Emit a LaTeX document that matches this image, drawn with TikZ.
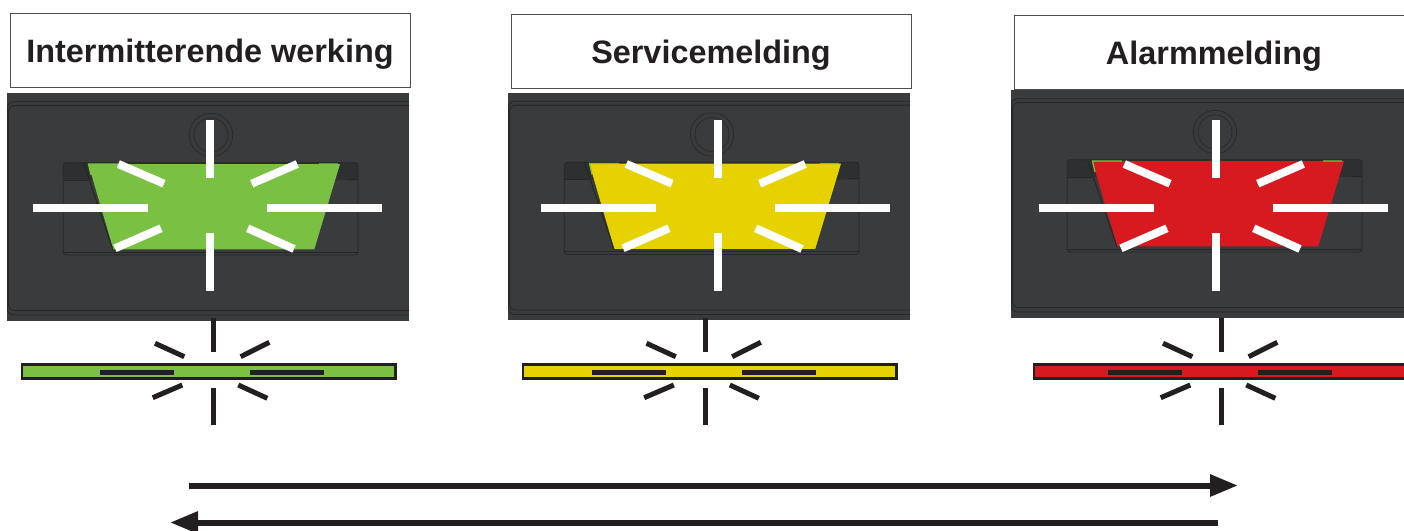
\documentclass[tikz,border=0pt]{standalone}
\usepackage{fontspec}
\setmainfont{Liberation Sans}
\usetikzlibrary{arrows.meta}

\definecolor{ledgreen}{HTML}{7AC143}
\definecolor{ledyellow}{HTML}{E5D200}
\definecolor{ledred}{HTML}{D71920}
\definecolor{panelgrey}{HTML}{3A3B3D}
\definecolor{slotgrey}{HTML}{2E2F30}
\definecolor{inkblack}{HTML}{231F20}

\begin{document}
\begin{tikzpicture}[
    x=1pt, y=-1pt,
    titlebox/.style={draw=inkblack!80, line width=0.9pt, fill=white, minimum width=400pt, minimum height=74pt, inner sep=0pt, text=inkblack, text height=30pt, text depth=6pt, font=\fontsize{32.4}{36}\selectfont\bfseries},
    panelbox/.style={fill=panelgrey, minimum width=402pt, minimum height=227.5pt, inner sep=0pt, anchor=north west},
    barbox/.style={draw=inkblack, line width=2.5pt, minimum width=373.5pt, minimum height=14pt, inner sep=0pt},
    outline/.style={draw=black!85, line width=0.8pt},
    spoke/.style={draw=white, line width=8pt},
    darkspoke/.style={draw=inkblack, line width=5pt},
    flow/.style={draw=inkblack, line width=6pt, -{Triangle[length=28pt,width=21pt]}}
]

\useasboundingbox (0,0) rectangle (1404,530);
\clip (0,0) rectangle (1404,530);

% title offset, panel offset, white spokes, black spokes, bar
\foreach \n/\ledcol/\name/\tx/\ty/\px/\py/\sx/\lx/\bx in {
    one/ledgreen/Intermitterende werking/0/0/0/0/0/0/0,
    two/ledyellow/Servicemelding/501/1/501/-0.5/508/491.5/501,
    three/ledred/Alarmmelding/1004/2.5/1004/-3/1006/1008/1012} {

    \node[titlebox] (title\n) at (210+\tx,50+\ty) {\name};

    \begin{scope}[shift={(\px,\py)}]
        \node[panelbox] (panel\n) at (7,93) {};
        \draw[outline, rounded corners=6pt] (409,101.7) -| (7.4,315) -- (409,315);
        \draw[outline, rounded corners=5pt] (409,105.6) -| (8.6,310.5) -- (409,310.5);
        \draw[outline, line width=0.6pt] (211,135) circle (21.7pt) (211,135) circle (17pt);
        \fill[slotgrey, rounded corners=2pt] (63.3,162.7) rectangle (358,180);
        \draw[outline, rounded corners=3pt] (63.3,162.7) rectangle (358,255);
        \draw[outline, line width=0.5pt] (63.3,180) -- (88,180) (347,179) -- (358,179) (63.3,252) -- (358,252);
        \fill[\ledcol] (88.3,164) -- (340,164) -- (314.3,249.3) -- (113.3,249.3) -- cycle;
        \draw[ledgreen, line width=1.2pt] (91,175) -- (88.5,164) -- (118,164) (319,164) -- (338,164);
        \draw[outline, line width=1pt] (83.5,163) -- (113,250);
    \end{scope}

    \begin{scope}[shift={(\sx,0)}]
        \draw[spoke] (210,120) -- (210,177.7) (210,233.3) -- (210,291);
        \draw[spoke] (32.7,208.3) -- (148,208.3) (266.7,208.3) -- (382,208.3);
        \draw[spoke] (118.3,164) -- (164,183.7) (297.3,164) -- (251.7,183.7);
        \draw[spoke] (161,228.3) -- (115,248.3) (247.7,228.3) -- (294,249);
    \end{scope}

    \node[barbox, fill=\ledcol] (bar\n) at (208.7+\bx,371.7) {};

    \begin{scope}[shift={(\lx,0)}]
        \draw[darkspoke] (213.5,318) -- (213.5,352) (213.5,388) -- (213.5,425);
        \draw[darkspoke] (155,343.3) -- (184.3,356.7) (269.3,342.3) -- (240.7,356.7);
        \draw[darkspoke] (182.3,385) -- (152.7,397.7) (238.3,385) -- (267.3,398.3);
        \draw[darkspoke] (100,372.3) -- (174,372.3) (250,372.3) -- (324,372.3);
    \end{scope}
}

\coordinate (forwardstart) at (189,485.5);
\coordinate (forwardend) at (1238,485.5);
\coordinate (backstart) at (1218,522.5);
\coordinate (backend) at (170,522.5);

\draw[flow] (forwardstart) -- (forwardend);
\draw[flow] (backstart) -- (backend);

\end{tikzpicture}
\end{document}
